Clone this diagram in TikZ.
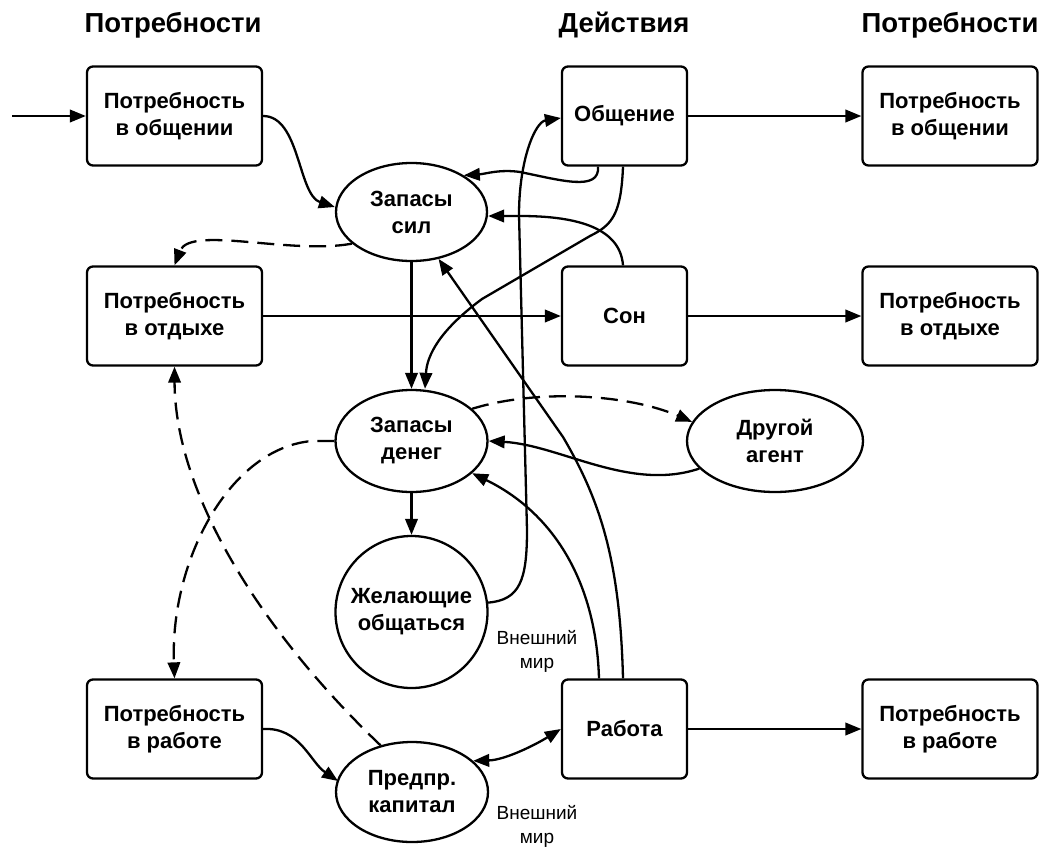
\documentclass[tikz,border=0pt]{standalone}
\usepackage{fontspec}
\setmainfont{Liberation Sans}
\usetikzlibrary{arrows.meta,shapes.geometric}
\begin{document}
\begin{tikzpicture}[x=1pt,y=-1pt,
  line width=2.3pt,
  >={Triangle[length=16pt,width=12.5pt]},
  lbl/.style={font=\fontsize{22}{27}\selectfont\bfseries, align=center},
  hdr/.style={font=\fontsize{27.5}{30}\selectfont\bfseries},
  needbox/.style={lbl, draw, rounded corners=6pt, minimum width=175pt, minimum height=99pt, inner sep=0pt},
  actbox/.style={lbl, draw, rounded corners=6pt, minimum width=125pt, minimum height=99pt, inner sep=0pt},
  stock/.style={lbl, draw, ellipse, inner sep=0pt},
  world/.style={font=\fontsize{19}{24}\selectfont, align=center},
  dsh/.style={dash pattern=on 17pt off 9pt}
]
\useasboundingbox (0,0) rectangle (1043,846);
% headers
\node[hdr] (h1) at (173,25) {Потребности};
\node[hdr] (h2) at (624,25) {Действия};
\node[hdr] (h3) at (950,25) {Потребности};
% boxes
\node[needbox] (n1) at (174.5,116) {Потребность\\в общении};
\node[needbox] (n2) at (174.5,316) {Потребность\\в отдыхе};
\node[needbox] (n3) at (174.5,729) {Потребность\\в работе};
\node[actbox] (m1) at (624.5,116) {Общение};
\node[actbox] (m2) at (624.5,316) {Сон};
\node[actbox] (m3) at (624.5,729) {Работа};
\node[needbox] (r1) at (950,116) {Потребность\\в общении};
\node[needbox] (r2) at (950,316) {Потребность\\в отдыхе};
\node[needbox] (r3) at (950,729) {Потребность\\в работе};
% stocks
\node[stock, minimum width=151pt, minimum height=98pt] (e1) at (411.5,212) {Запасы\\сил};
\node[stock, minimum width=152pt, minimum height=102pt] (e2) at (411.5,441) {Запасы\\денег};
\node[stock, inner sep=-20pt, minimum width=152pt, minimum height=152pt] (c1) at (411.5,612) {Желающие\\общаться};
\node[stock, minimum width=176pt, minimum height=102pt] (e3) at (775,441) {Другой\\агент};
\node[stock, minimum width=152pt, minimum height=100pt] (e4) at (412,792) {Предпр.\\капитал};
% outside world labels
\node[world] (w1) at (537,651) {Внешний\\мир};
\node[world] (w2) at (537,826) {Внешний\\мир};
% free end of input arrow
\coordinate (in0) at (12,116);

% straight arrows
\draw[->] (in0) -- (n1.west);
\draw[->] (m1.east) -- (r1.west);
\draw[->] (m2.east) -- (r2.west);
\draw[->] (m3.east) -- (r3.west);
\draw[->] (n2.east) -- (m2.west);
\draw[->] (e1.south) -- (e2.north);
\draw[->] (e2.south) -- (c1.north);

% need -> stocks
\draw[->] (n1.east) .. controls (300,116) and (298,195) .. (e1.west |- 0,207);
\draw[->] (n3.east) .. controls (300,727) and (310,762) .. (338,781);

% dashed
\draw[->,dsh] (e1.-152) .. controls (290,255) and (190,225) .. (n2.north);
\draw[->,dsh] (e2.west) -- (312,441) .. controls (230,448) and (170,560) .. (n3.north);
\draw[->,dsh] (e4.124) .. controls (270,640) and (175,500) .. (n2.south);
\draw[->,dsh] (e2.28) .. controls (540,388) and (630,395) .. (e3.167);

% actions -> stocks
\draw[->] (m1.south -| 598,0) .. controls (600,192) and (560,180) .. (520,172) .. controls (500,169) and (485,174) .. (e1.35);
\draw[->] (m2.north -| 623,0) .. controls (620,225) and (570,216) .. (520,216) -- (e1.east |- 0,216);
\draw[->] (m1.south -| 623,0) .. controls (621,215) and (612,225) .. (590,236) -- (482,299) .. controls (440,330) and (427,355) .. (e2.north -| 425,0);
\draw[->] (c1.7) .. controls (520,600) and (527,580) .. (527,530) -- (519,215) .. controls (519,160) and (535,122) .. (m1.west |- 0,118);
\draw[->] (m3.north -| 599,0) .. controls (596,580) and (552,512) .. (e2.-28);
\draw[->] (m3.north -| 623,0) .. controls (620,560) and (600,500) .. (563,437) -- (e1.-60);
\draw[->] (e3.-160) .. controls (630,492) and (560,445) .. (e2.east |- 0,441);
\draw[<->] (m3.west) .. controls (535,745) and (505,760) .. (e4.27);
\end{tikzpicture}
\end{document}
